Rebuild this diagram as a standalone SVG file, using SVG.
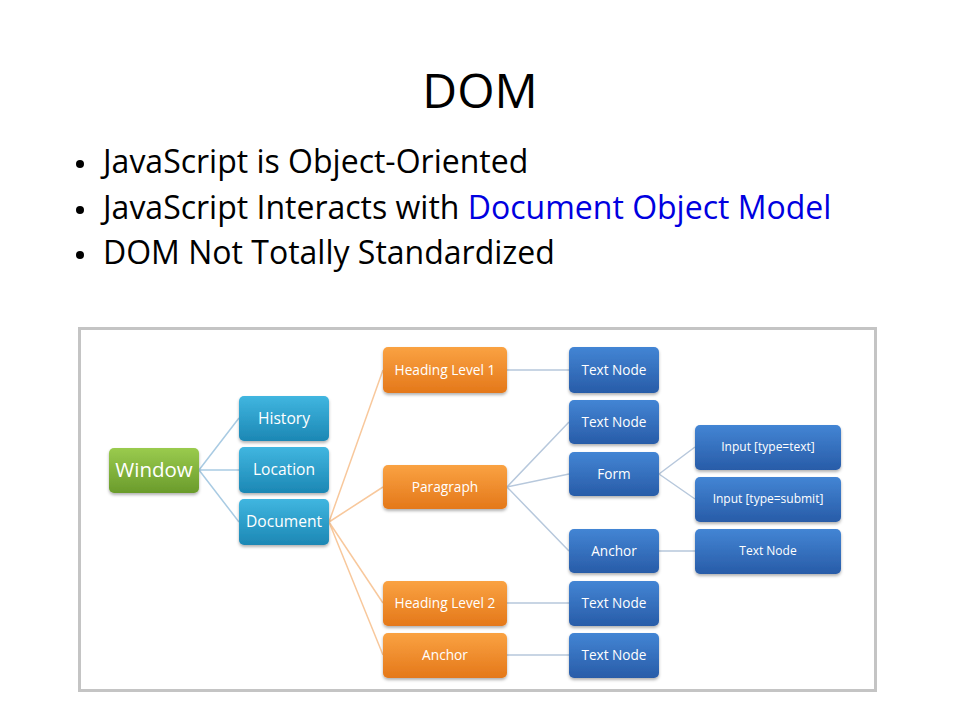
<svg xmlns="http://www.w3.org/2000/svg" width="960" height="720" viewBox="0 0 960 720">
<defs>
<linearGradient id="gGreen" x1="0" y1="0" x2="0" y2="1"><stop offset="0" stop-color="#9acb4e"/><stop offset="1" stop-color="#6a9b2b"/></linearGradient>
<linearGradient id="gTeal" x1="0" y1="0" x2="0" y2="1"><stop offset="0" stop-color="#40b6e0"/><stop offset="1" stop-color="#1c87b4"/></linearGradient>
<linearGradient id="gOrange" x1="0" y1="0" x2="0" y2="1"><stop offset="0" stop-color="#faa242"/><stop offset="1" stop-color="#e4781a"/></linearGradient>
<linearGradient id="gBlue" x1="0" y1="0" x2="0" y2="1"><stop offset="0" stop-color="#4385d4"/><stop offset="1" stop-color="#285ca8"/></linearGradient>
<filter id="sh" x="-10%" y="-10%" width="130%" height="140%"><feDropShadow dx="0" dy="2" stdDeviation="1.5" flood-color="#000" flood-opacity="0.3"/></filter>
</defs>
<style>
.title{font-family:"Open Sans","Liberation Sans",sans-serif;font-size:48px;fill:#000}
.bul{font-family:"Open Sans","Liberation Sans",sans-serif;font-size:32px;fill:#000}
.link{fill:#0000e0}
.box{filter:url(#sh)}
.lbl{font-family:"Open Sans","Liberation Sans",sans-serif;fill:#fff;text-anchor:middle}
.c-blue{stroke:#a9cbe3;stroke-width:1.5;fill:none}
.c-or{stroke:#f8c89c;stroke-width:1.5;fill:none}
.c-gr{stroke:#b7c8dc;stroke-width:1.5;fill:none}
</style>
<rect width="960" height="720" fill="#fff"/>
<text class="title" x="480" y="108" text-anchor="middle">DOM</text>
<g id="bullets">
<circle cx="80" cy="164" r="4" fill="#000"/>
<circle cx="80" cy="210" r="4" fill="#000"/>
<circle cx="80" cy="255" r="4" fill="#000"/>
<text class="bul" x="103" y="173">JavaScript is Object-Oriented</text>
<text class="bul" x="103" y="219">JavaScript Interacts with <tspan class="link">Document Object Model</tspan></text>
<text class="bul" x="103" y="264">DOM Not Totally Standardized</text>
</g>
<rect id="frame" x="79.5" y="328.5" width="796" height="362" fill="#fff" stroke="#c4c4c4" stroke-width="3"/>
<g id="connectors">
<path class="c-blue" d="M199 470L239 418M199 470L239 470M199 470L239 522"/>
<path class="c-or" d="M329 522L383 370M329 522L383 487M329 522L383 603M329 522L383 655"/>
<path class="c-gr" d="M507 370L569 370M507 487L569 422M507 487L569 474M507 487L569 551M659 474L695 447M659 474L695 499M659 551L695 551M507 603L569 603M507 655L569 655"/>
</g>
<g id="window"><rect class="box" x="109" y="448" width="90" height="45" rx="5" fill="url(#gGreen)"/><text class="lbl" x="154" y="477" font-size="20.5">Window</text></g>
<g id="history"><rect class="box" x="239" y="396" width="90" height="45" rx="5" fill="url(#gTeal)"/><text class="lbl" x="284" y="424" font-size="15.6">History</text></g>
<g id="location"><rect class="box" x="239" y="447" width="90" height="46" rx="5" fill="url(#gTeal)"/><text class="lbl" x="284" y="475" font-size="15.6">Location</text></g>
<g id="document"><rect class="box" x="239" y="499" width="90" height="46" rx="5" fill="url(#gTeal)"/><text class="lbl" x="284" y="527" font-size="15.6">Document</text></g>
<g id="heading1"><rect class="box" x="383" y="347" width="124" height="46" rx="5" fill="url(#gOrange)"/><text class="lbl" x="445" y="375" font-size="13.7">Heading Level 1</text></g>
<g id="paragraph"><rect class="box" x="383" y="465" width="124" height="44" rx="5" fill="url(#gOrange)"/><text class="lbl" x="445" y="492" font-size="13.7">Paragraph</text></g>
<g id="heading2"><rect class="box" x="383" y="581" width="124" height="45" rx="5" fill="url(#gOrange)"/><text class="lbl" x="445" y="608" font-size="13.7">Heading Level 2</text></g>
<g id="anchor1"><rect class="box" x="383" y="633" width="124" height="45" rx="5" fill="url(#gOrange)"/><text class="lbl" x="445" y="660" font-size="13.7">Anchor</text></g>
<g id="text1"><rect class="box" x="569" y="347" width="90" height="46" rx="5" fill="url(#gBlue)"/><text class="lbl" x="614" y="375" font-size="13.6">Text Node</text></g>
<g id="text2"><rect class="box" x="569" y="400" width="90" height="44" rx="5" fill="url(#gBlue)"/><text class="lbl" x="614" y="427" font-size="13.6">Text Node</text></g>
<g id="form"><rect class="box" x="569" y="452" width="90" height="44" rx="5" fill="url(#gBlue)"/><text class="lbl" x="614" y="479" font-size="13.6">Form</text></g>
<g id="anchor2"><rect class="box" x="569" y="529" width="90" height="44" rx="5" fill="url(#gBlue)"/><text class="lbl" x="614" y="556" font-size="13.6">Anchor</text></g>
<g id="text3"><rect class="box" x="569" y="581" width="90" height="45" rx="5" fill="url(#gBlue)"/><text class="lbl" x="614" y="608" font-size="13.6">Text Node</text></g>
<g id="text4"><rect class="box" x="569" y="633" width="90" height="45" rx="5" fill="url(#gBlue)"/><text class="lbl" x="614" y="660" font-size="13.6">Text Node</text></g>
<g id="inputText"><rect class="box" x="695" y="425" width="146" height="45" rx="5" fill="url(#gBlue)"/><text class="lbl" x="768" y="451" font-size="12">Input [type=text]</text></g>
<g id="inputSubmit"><rect class="box" x="695" y="477" width="146" height="45" rx="5" fill="url(#gBlue)"/><text class="lbl" x="768" y="503" font-size="12">Input [type=submit]</text></g>
<g id="text5"><rect class="box" x="695" y="529" width="146" height="45" rx="5" fill="url(#gBlue)"/><text class="lbl" x="768" y="555" font-size="12">Text Node</text></g>
</svg>
